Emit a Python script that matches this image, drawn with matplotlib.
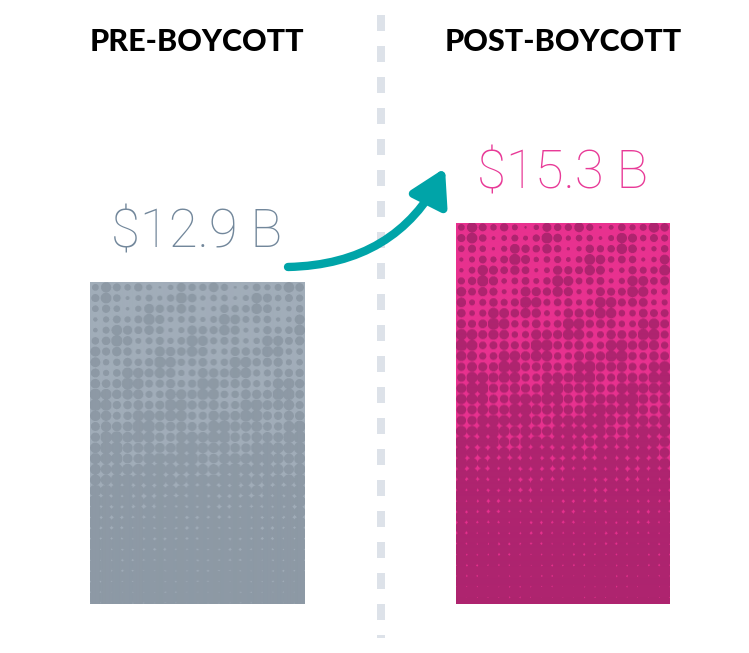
import numpy as np
import matplotlib
matplotlib.use('Agg')
import matplotlib.pyplot as plt
from matplotlib import transforms

# data
periods = ['PRE-BOYCOTT', 'POST-BOYCOTT']
revenue = [12.9, 15.3]          # billions of dollars
labels = ['$12.9 B', '$15.3 B']

light = ['#a1adb9', '#e8318f']
dark = ['#8d99a5', '#ae246f']
textcol = ['#72879b', '#e83a97']
teal = '#00a4a8'

W, H = 749, 653
fig = plt.figure(figsize=(W / 100, H / 100), dpi=100)
ax = fig.add_axes([0, 0, 1, 1])
ax.axis('off')

s = 24.93    # px per billion
ux = 366.0   # px per category step
ax.set_xlim(-197 / ux, (W - 197) / ux)
ax.set_ylim(-49 / s, (H - 49) / s)

bars = ax.bar(range(len(revenue)), revenue, width=214 / ux, color=light, zorder=2)


def halftone(wpx, hpx, c_light, c_dark, sp=10.7, ss=3):
    # dots grow toward the bottom of the bar, then merge
    nx, ny = int(wpx * ss), int(hpx * ss)
    xs = (np.arange(nx) + 0.5) / ss
    ys = (np.arange(ny) + 0.5) / ss
    X, Y = np.meshgrid(xs, ys)
    ci = np.floor(X / sp)
    cj = np.floor(Y / sp)
    dx = X - (ci + 0.5) * sp
    dy = Y - (cj + 0.5) * sp
    t = (cj + 0.5) * sp / hpx
    m = np.interp(t, [0, 0.3, 0.55, 0.7, 1], [0.31, 0.43, 0.52, 0.6, 0.68])
    a = np.interp(t, [0, 0.4, 0.6, 1], [0.2, 0.12, 0.07, 0.03])
    v = np.sin(ci * 1.3 + cj * 0.4) * np.cos(cj * 0.9 - ci * 0.5)
    r = sp * np.clip(m + a * v, 0, None)
    inside = (np.hypot(dx, dy) < r).astype(float)
    cov = inside.reshape(int(hpx), ss, int(wpx), ss).mean(axis=(1, 3))
    cl = np.array(matplotlib.colors.to_rgb(c_light))
    cd = np.array(matplotlib.colors.to_rgb(c_dark))
    return cl * (1 - cov[..., None]) + cd * cov[..., None]


for i, b in enumerate(bars):
    x0, y0 = b.get_x(), b.get_y()
    w, h = b.get_width(), b.get_height()
    p0 = ax.transData.transform((x0, y0))
    p1 = ax.transData.transform((x0 + w, y0 + h))
    wpx = int(round(p1[0] - p0[0]))
    hpx = int(round(p1[1] - p0[1]))
    img = halftone(wpx, hpx, light[i], dark[i])
    im = ax.imshow(img, extent=[x0, x0 + w, y0, y0 + h], aspect='auto',
                   interpolation='bilinear', zorder=3)
    im.set_clip_path(b)

ax.set_xlim(-197 / ux, (W - 197) / ux)
ax.set_ylim(-49 / s, (H - 49) / s)

# divider
blend = transforms.blended_transform_factory(ax.transData, ax.transAxes)
xdiv = (381 - 197) / ux
ax.plot([xdiv, xdiv], [1 - 15 / H, 1 - 638 / H], transform=blend, color='#dde2e9',
        lw=5.76, linestyle=(0, (2.0, 1.875)), solid_capstyle='butt', zorder=1)

# headings and values
for i, name in enumerate(periods):
    ax.text(i, 1 - 42 / H, name, transform=blend, ha='center', va='center',
            fontsize=22, fontfamily='Lato', fontweight='black', color='black')
    ax.annotate(labels[i], xy=(i, revenue[i]), xytext=(0, 36 if i == 0 else 35),
                textcoords='offset points', ha='center', va='center',
                fontsize=38, fontfamily='Roboto', fontweight='light', color=textcol[i])

# arrow
ax.annotate('', xy=(445, H - 168), xycoords='figure pixels',
            xytext=(288, H - 267), textcoords='figure pixels',
            arrowprops=dict(arrowstyle='-|>,head_length=0.6,head_width=0.35',
                            connectionstyle='arc3,rad=0.3', lw=6, color=teal,
                            mutation_scale=35, shrinkA=0, shrinkB=0))

fig.savefig('out.png', dpi=100)
